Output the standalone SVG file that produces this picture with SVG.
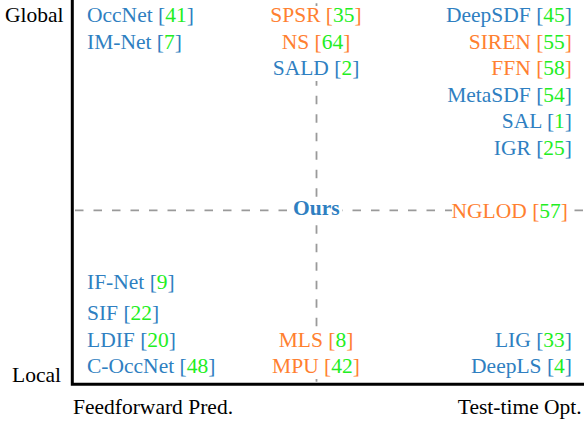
<svg xmlns="http://www.w3.org/2000/svg" width="584" height="423" viewBox="0 0 584 423">
<style>
text{font-family:"Liberation Serif","Times New Roman",serif;font-size:21.5px}
.b{fill:#2f7fc1}
.o{fill:#ff8030}
.g{fill:#22ee22}
.k{fill:#000}
.box{fill:#fff}
.dash{stroke:#9a9a9a;stroke-width:1.8;stroke-dasharray:8.5 10;fill:none}
</style>
<rect width="584" height="423" fill="#fff"/>
<g id="guides">
<line class="dash" x1="316.5" y1="0" x2="316.5" y2="384" stroke-dashoffset="15.3"/>
<line class="dash" x1="75" y1="210.3" x2="584" y2="210.3"/>
</g>
<g id="axes">
<polyline points="72.3,0 72.3,384.3 584,384.3" fill="none" stroke="#000" stroke-width="3"/>
<text class="k" x="5" y="22">Global</text>
<text class="k" x="12" y="382">Local</text>
<text class="k" x="73" y="414">Feedforward Pred.</text>
<text class="k" x="581.7" y="414" text-anchor="end">Test-time Opt.</text>
</g>
<g id="occnet"><text class="b" x="87" y="22">OccNet [<tspan class="g">41</tspan>]</text></g>
<g id="imnet"><text class="b" x="87" y="48.6">IM-Net [<tspan class="g">7</tspan>]</text></g>
<g id="spsr"><rect class="box" x="268.5" y="6" width="95" height="21"/><text class="o" x="316" y="22" text-anchor="middle">SPSR [<tspan class="g">35</tspan>]</text></g>
<g id="ns"><rect class="box" x="280" y="27" width="72" height="27"/><text class="o" x="316" y="48.6" text-anchor="middle">NS [<tspan class="g">64</tspan>]</text></g>
<g id="sald"><rect class="box" x="271" y="54" width="90" height="27"/><text class="b" x="316" y="75.2" text-anchor="middle">SALD [<tspan class="g">2</tspan>]</text></g>
<g id="deepsdf"><text class="b" x="572" y="22" text-anchor="end">DeepSDF [<tspan class="g">45</tspan>]</text></g>
<g id="siren"><text class="o" x="572" y="48.6" text-anchor="end">SIREN [<tspan class="g">55</tspan>]</text></g>
<g id="ffn"><text class="o" x="572" y="75.2" text-anchor="end">FFN [<tspan class="g">58</tspan>]</text></g>
<g id="metasdf"><text class="b" x="572" y="101.8" text-anchor="end">MetaSDF [<tspan class="g">54</tspan>]</text></g>
<g id="sal"><text class="b" x="572" y="128.4" text-anchor="end">SAL [<tspan class="g">1</tspan>]</text></g>
<g id="igr"><text class="b" x="572" y="155" text-anchor="end">IGR [<tspan class="g">25</tspan>]</text></g>
<g id="ours"><rect class="box" x="291" y="199" width="51" height="21"/><text x="316.3" y="215" text-anchor="middle" font-weight="bold" class="b">Ours</text></g>
<g id="nglod"><rect class="box" x="452" y="201" width="119" height="21"/><text class="o" x="568" y="217.5" text-anchor="end">NGLOD [<tspan class="g">57</tspan>]</text></g>
<g id="ifnet"><text class="b" x="87" y="289.3">IF-Net [<tspan class="g">9</tspan>]</text></g>
<g id="sif"><text class="b" x="87" y="320">SIF [<tspan class="g">22</tspan>]</text></g>
<g id="ldif"><text class="b" x="87" y="346.7">LDIF [<tspan class="g">20</tspan>]</text></g>
<g id="coccnet"><text class="b" x="87" y="372.7">C-OccNet [<tspan class="g">48</tspan>]</text></g>
<g id="mls"><rect class="box" x="277" y="330.5" width="78" height="22"/><text class="o" x="316" y="346.7" text-anchor="middle">MLS [<tspan class="g">8</tspan>]</text></g>
<g id="mpu"><rect class="box" x="270.5" y="352.5" width="91" height="26.5"/><text class="o" x="316" y="372.7" text-anchor="middle">MPU [<tspan class="g">42</tspan>]</text></g>
<g id="lig"><text class="b" x="572" y="346.7" text-anchor="end">LIG [<tspan class="g">33</tspan>]</text></g>
<g id="deepls"><text class="b" x="572" y="372.7" text-anchor="end">DeepLS [<tspan class="g">4</tspan>]</text></g>
</svg>
